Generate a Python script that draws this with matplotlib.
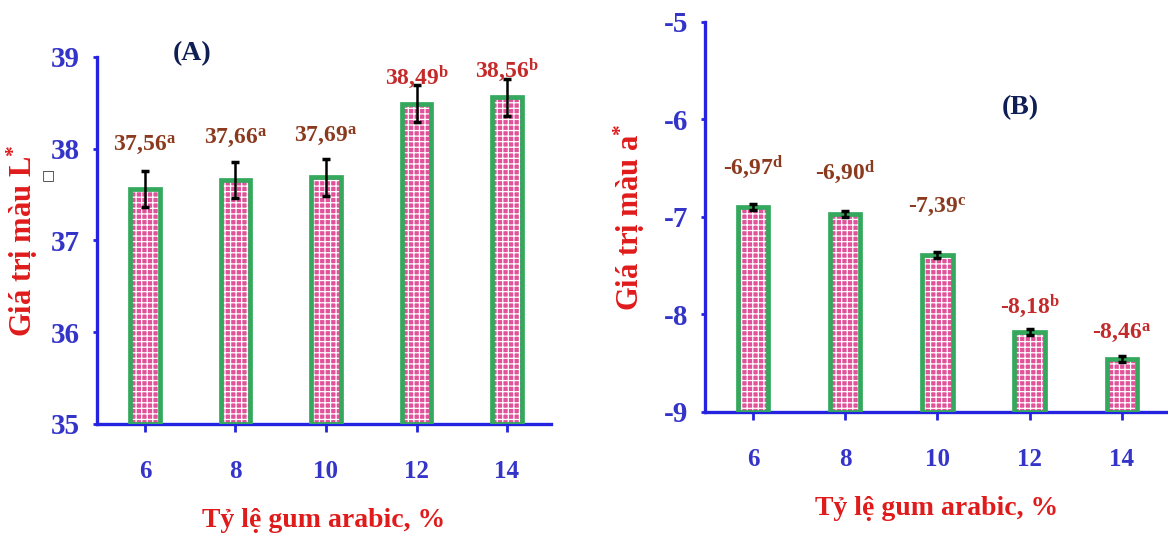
import matplotlib
matplotlib.use('Agg')
import matplotlib.pyplot as plt

# data
gum_ratio = [6, 8, 10, 12, 14]

L_values = [37.56, 37.66, 37.69, 38.49, 38.56]
L_err = [0.2, 0.2, 0.2, 0.2, 0.2]
L_labels = ['37,56', '37,66', '37,69', '38,49', '38,56']
L_letters = ['a', 'a', 'a', 'b', 'b']

a_values = [-6.90, -6.97, -7.39, -8.18, -8.46]
a_err = [0.03, 0.03, 0.03, 0.03, 0.03]
a_labels = ['-6,97', '-6,90', '-7,39', '-8,18', '-8,46']
a_letters = ['d', 'd', 'c', 'b', 'a']

# layout (label heights, in data units)
L_label_y = [38.04, 38.11, 38.13, 38.78, 38.86]
a_label_y = [-6.49, -6.54, -6.90, -7.92, -8.19]
label_colors = ['#8b3a1e', '#8b3a1e', '#8b3a1e', '#c42a2a', '#c42a2a']

BLUE = '#2424e0'
TICKBLUE = '#3434c8'
RED = '#e01b1b'
GREEN = '#34a85c'
PINK = '#e0529a'

plt.rcParams['font.family'] = ['Liberation Serif', 'DejaVu Sans']
plt.rcParams['font.weight'] = 'bold'
plt.rcParams['axes.unicode_minus'] = False
plt.rcParams['mathtext.fontset'] = 'custom'
plt.rcParams['mathtext.rm'] = 'Liberation Serif:bold'
plt.rcParams['mathtext.it'] = 'Liberation Serif:bold'
plt.rcParams['mathtext.bf'] = 'Liberation Serif:bold'
plt.rcParams['hatch.linewidth'] = 0.9

fig = plt.figure(figsize=(11.68, 5.48), dpi=100)
axA = fig.add_axes([0.083, 0.2263, 0.3887, 0.6697])
axB = fig.add_axes([0.6036, 0.2482, 0.3964, 0.7117])


def draw_panel(ax, values, errs, labels, letters, label_y, bottom):
    heights = [v - bottom for v in values]
    ax.bar(gum_ratio, heights, width=0.66, bottom=bottom, color=PINK,
           hatch='+++', edgecolor='white', linewidth=0, zorder=2)
    ax.bar(gum_ratio, heights, width=0.66, bottom=bottom, fill=False,
           edgecolor=GREEN, linewidth=3.4, zorder=3)
    ax.errorbar(gum_ratio, values, yerr=errs, fmt='none', ecolor='black',
                elinewidth=1.8, capsize=3, capthick=2.5, zorder=4)
    for x, lab, let, y, c in zip(gum_ratio, labels, letters, label_y, label_colors):
        ax.text(x, y, lab + r'$^{\mathrm{' + let + '}}$', ha='center', va='center',
                fontsize=17, fontweight='bold', color=c, zorder=5)
    for s in ['top', 'right']:
        ax.spines[s].set_visible(False)
    for s in ['left', 'bottom']:
        ax.spines[s].set_color(BLUE)
        ax.spines[s].set_linewidth(2.4)
    ax.set_xticks(gum_ratio)
    ax.tick_params(axis='x', direction='out', length=6, width=2, color=BLUE,
                   labelcolor=TICKBLUE, labelsize=18, pad=20)
    ax.tick_params(axis='y', direction='out', length=3, width=2, color=BLUE,
                   labelcolor=TICKBLUE, labelsize=21, pad=9)
    ax.set_xlabel('Tỷ lệ gum arabic, %', fontsize=20, color=RED,
                  fontweight='bold', labelpad=18)


draw_panel(axA, L_values, L_err, L_labels, L_letters, L_label_y, 35)
axA.set_xlim(4.94, 14.97)
axA.set_ylim(35, 39)
axA.set_yticks([35, 36, 37, 38, 39])
axA.set_ylabel('Giá trị màu L$^{*}$', fontsize=22, color=RED,
               fontweight='bold', labelpad=8)
axA.text(-0.108, 0.678, '□', transform=axA.transAxes, fontsize=10,
         family='DejaVu Sans', color='#333333', ha='center', va='center')
axA.text(0.21, 1.01, '(A)', transform=axA.transAxes, fontsize=20,
         fontweight='bold', color='#0f1f55', ha='center', va='center')

draw_panel(axB, a_values, a_err, a_labels, a_letters, a_label_y, -9)
axB.set_xlim(4.96, 15.0)
axB.set_ylim(-9, -5)
axB.set_yticks([-9, -8, -7, -6, -5])
axB.set_ylabel('Giá trị màu a$^{*}$', fontsize=22, color=RED,
               fontweight='bold', labelpad=12)
axB.text(0.68, 0.78, '(B)', transform=axB.transAxes, fontsize=20,
         fontweight='bold', color='#0f1f55', ha='center', va='center')

fig.savefig('out.png', dpi=100)
